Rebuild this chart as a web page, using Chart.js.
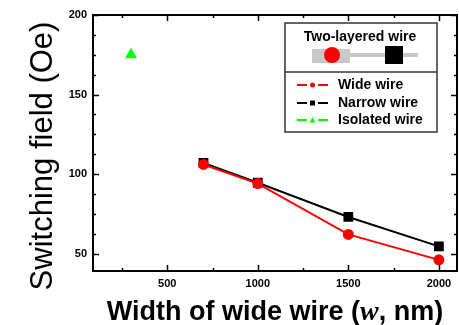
<!DOCTYPE html>
<html>
<head>
<meta charset="utf-8">
<script src="https://cdn.jsdelivr.net/npm/chart.js@4"></script>
<style>
  html, body { margin: 0; padding: 0; background: #fff; }
  #wrap { width: 459px; height: 325px; }
</style>
</head>
<body>
<div id="wrap"><canvas id="plot" width="459" height="325"></canvas></div>
<script>
// data
const widths = [700, 1000, 1500, 2000];
const wideWire = [106, 94, 62, 46];
const narrowWire = [107, 94.5, 73, 54.5];
const isolatedX = [300];
const isolatedY = [175];

const xTicks = [500, 1000, 1500, 2000];
const yTicks = [50, 100, 150, 200];
const xMinorStep = 250;
const yMinorStep = 12.5;

const FONT = "'Liberation Sans', Arial, sans-serif";

function points(xs, ys) {
    return xs.map((x, i) => ({ x: x, y: ys[i] }));
}

// frame, inward ticks, axis titles and the boxed legend
const decorations = {
    id: 'decorations',
    afterDraw(chart) {
        const ctx = chart.ctx;
        const a = chart.chartArea;
        const xs = chart.scales.x, ys = chart.scales.y;
        ctx.save();
        ctx.strokeStyle = '#000';
        ctx.lineWidth = 2;
        ctx.strokeRect(a.left, a.top, a.right - a.left, a.bottom - a.top);

        ctx.lineWidth = 1.5;
        ctx.beginPath();
        for (let v = Math.ceil(xs.min / xMinorStep) * xMinorStep; v <= xs.max; v += xMinorStep) {
            const px = Math.round(xs.getPixelForValue(v)) + 0.5;
            const len = xTicks.includes(v) ? 6 : 3;
            ctx.moveTo(px, a.bottom); ctx.lineTo(px, a.bottom - len);
            ctx.moveTo(px, a.top); ctx.lineTo(px, a.top + len);
        }
        for (let v = Math.ceil(ys.min / yMinorStep) * yMinorStep; v <= ys.max; v += yMinorStep) {
            const py = Math.round(ys.getPixelForValue(v)) + 0.5;
            const len = yTicks.includes(v) ? 6 : 3;
            ctx.moveTo(a.left, py); ctx.lineTo(a.left + len, py);
            ctx.moveTo(a.right, py); ctx.lineTo(a.right - len, py);
        }
        ctx.stroke();

        // y title
        ctx.fillStyle = '#000';
        ctx.save();
        ctx.translate(52, 156);
        ctx.rotate(-Math.PI / 2);
        ctx.font = '31px ' + FONT;
        ctx.textAlign = 'center';
        ctx.textBaseline = 'alphabetic';
        ctx.fillText('Switching field (Oe)', 0, 0);
        ctx.restore();

        // x title with italic w
        const parts = [
            ['bold 27px ' + FONT, 'Width of wide wire ('],
            ['italic bold 28px "Liberation Serif", serif', 'w'],
            ['bold 27px ' + FONT, ', nm)']
        ];
        let total = 0;
        parts.forEach(p => { ctx.font = p[0]; total += ctx.measureText(p[1]).width; });
        let tx = 275 - total / 2;
        ctx.textBaseline = 'alphabetic';
        ctx.textAlign = 'left';
        parts.forEach(p => {
            ctx.font = p[0];
            ctx.fillText(p[1], tx, 320);
            tx += ctx.measureText(p[1]).width;
        });

        // legend box
        const L = { left: 285, top: 23, right: 437, bottom: 132, divider: 72 };
        ctx.lineWidth = 1.5;
        ctx.strokeStyle = '#333';
        ctx.strokeRect(L.left, L.top, L.right - L.left, L.bottom - L.top);
        ctx.beginPath();
        ctx.moveTo(L.left, L.divider); ctx.lineTo(L.right, L.divider);
        ctx.stroke();

        ctx.font = 'bold 14px ' + FONT;
        ctx.textAlign = 'center';
        ctx.textBaseline = 'middle';
        ctx.fillText('Two-layered wire', 360, 37);

        ctx.fillStyle = '#c8c8c8';
        ctx.fillRect(312, 53, 106, 4);
        ctx.fillRect(312, 49, 38, 14);
        ctx.fillStyle = '#ff0000';
        ctx.beginPath();
        ctx.arc(332, 55, 8, 0, Math.PI * 2);
        ctx.fill();
        ctx.fillStyle = '#000';
        ctx.fillRect(385, 46, 18, 18);

        const rows = [85, 103, 120];
        chart.data.datasets.forEach((ds, i) => {
            const y = rows[i];
            ctx.strokeStyle = ds.borderColor;
            ctx.lineWidth = 2;
            ctx.beginPath();
            ctx.moveTo(297, y); ctx.lineTo(307, y);
            ctx.moveTo(318, y); ctx.lineTo(328, y);
            ctx.stroke();
            ctx.fillStyle = ds.pointBackgroundColor;
            ctx.beginPath();
            if (ds.pointStyle === 'circle') {
                ctx.arc(312.5, y, 2.5, 0, Math.PI * 2);
            } else if (ds.pointStyle === 'rect') {
                ctx.rect(310, y - 2.5, 5, 5);
            } else {
                ctx.moveTo(312.5, y - 3); ctx.lineTo(315.5, y + 2.5); ctx.lineTo(309.5, y + 2.5); ctx.closePath();
            }
            ctx.fill();
            ctx.fillStyle = '#000';
            ctx.font = 'bold 14px ' + FONT;
            ctx.textAlign = 'left';
            ctx.fillText(ds.label, 338, y);
        });
        ctx.restore();
    }
};

new Chart(document.getElementById('plot').getContext('2d'), {
    type: 'line',
    data: {
        datasets: [{
            label: 'Wide wire',
            data: points(widths, wideWire),
            borderColor: '#ff0000',
            backgroundColor: '#ff0000',
            pointBackgroundColor: '#ff0000',
            pointBorderColor: '#ff0000',
            pointStyle: 'circle',
            pointRadius: 4.5,
            borderWidth: 2,
            tension: 0
        }, {
            label: 'Narrow wire',
            data: points(widths, narrowWire),
            borderColor: '#000000',
            backgroundColor: '#000000',
            pointBackgroundColor: '#000000',
            pointBorderColor: '#000000',
            pointStyle: 'rect',
            pointRadius: 5.5,
            borderWidth: 2,
            tension: 0
        }, {
            label: 'Isolated wire',
            data: points(isolatedX, isolatedY),
            borderColor: '#00ff00',
            backgroundColor: '#00ff00',
            pointBackgroundColor: '#00ff00',
            pointBorderColor: '#00ff00',
            pointStyle: 'triangle',
            pointRadius: 5,
            borderWidth: 2,
            showLine: false
        }]
    },
    options: {
        responsive: false,
        animation: false,
        layout: { autoPadding: false, padding: { top: 15, right: 2, left: 0, bottom: 0 } },
        plugins: { legend: { display: false }, tooltip: { enabled: false } },
        scales: {
            x: {
                type: 'linear',
                min: 90,
                max: 2100,
                grid: { display: false, drawTicks: false },
                border: { display: false },
                afterBuildTicks: scale => { scale.ticks = xTicks.map(v => ({ value: v })); },
                afterFit: scale => { scale.height = 54; },
                ticks: { color: '#000', padding: 6, maxRotation: 0, callback: v => String(v), font: { family: FONT, size: 11, weight: 'bold' } }
            },
            y: {
                type: 'linear',
                min: 39,
                max: 200,
                grid: { display: false, drawTicks: false },
                border: { display: false },
                afterBuildTicks: scale => { scale.ticks = yTicks.map(v => ({ value: v })); },
                afterFit: scale => { scale.width = 93; },
                ticks: { color: '#000', padding: 6, callback: v => String(v), font: { family: FONT, size: 11, weight: 'bold' } }
            }
        }
    },
    plugins: [decorations]
});
</script>
</body>
</html>
